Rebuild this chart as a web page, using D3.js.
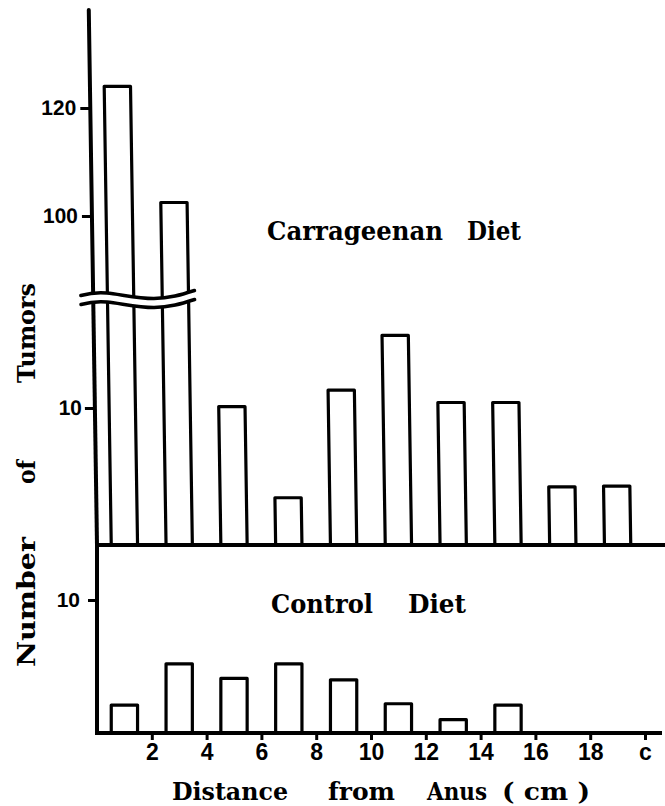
<!DOCTYPE html>
<html>
<head>
<meta charset="utf-8">
<script src="https://cdn.jsdelivr.net/npm/d3@7"></script>
<style>
  html, body { margin: 0; padding: 0; background: #fff; }
  svg { display: block; }
  .serif { font-family: "DejaVu Serif", "Liberation Serif", serif; font-weight: bold; fill: #000; }
  .ytick text { font-family: "Liberation Sans", Arial, sans-serif; font-weight: bold; font-size: 21px; fill: #000; }
  .xtick text { font-family: "Liberation Sans Narrow", "Liberation Sans", sans-serif; font-weight: bold; font-size: 23px; fill: #000; }
</style>
</head>
<body>
<svg id="chart" width="665" height="806"></svg>
<script>
// ---- data ----
const positions   = [1, 3, 5, 7, 9, 11, 13, 15, 17, 19];            // cm from anus (bar centres)
const carrageenan = [124, 102.5, 10.1, 3.45, 11.3, 15.3, 10.4, 10.4, 4.25, 4.3];
const control     = [2.1, 5.2, 4.1, 5.2, 4.0, 2.2, 1.0, 2.1, 0, 0];
const xTickValues = [2, 4, 6, 8, 10, 12, 14, 16, 18, 20];
const xTickLabels = ["2", "4", "6", "8", "10", "12", "14", "16", "18", "c"];
const upperTicks  = [100, 120];
const lowerTicks  = [10];
const controlTicks = [10];

// ---- layout ----
const svg = d3.select("#chart");
const baseUpper = 545, baseLower = 733;
const x = d3.scaleLinear().domain([0, 20]).range([97, 645]);
const yHigh = d3.scaleLinear().domain([100, 120]).range([216, 108]);   // upper part of broken axis
const yLow  = d3.scaleLinear().domain([0, 10]).range([baseUpper, 408]); // lower part of broken axis
const yCtl  = d3.scaleLinear().domain([0, 10]).range([baseLower, 600]);
const highTop = yHigh.invert(10);   // top of axis
const lowMax = 17.6;                // highest value visible below break
const halfW = 0.48;
const barStroke = 3.2, axisStroke = 4;

const barPath = (xc, y0, y1) =>
  `M${x(xc - halfW)},${y0}V${y1}H${x(xc + halfW)}V${y0}`;

// skewed group (original drawing is slightly slanted)
const upper = svg.append("g")
  .attr("transform", `translate(0,${baseUpper}) skewX(0.88) translate(0,${-baseUpper})`);

// break wave
const waveU = [[-0.45, 295.5], [0.5, 293], [2.2, 298.5], [3.7, 290.5]].map(d => [x(d[0]), d[1]]);
const waveL = waveU.map(d => [d[0], d[1] + 9]);
const wave = d3.line().curve(d3.curveNatural);
const defs = svg.append("defs");
const xl = waveU[0][0], xr = waveU[waveU.length - 1][0];
defs.append("clipPath").attr("id", "clipHigh").append("path")
  .attr("d", wave(waveU) + `L${xr},-20L${xl},-20Z`);
defs.append("clipPath").attr("id", "clipLow").append("path")
  .attr("d", wave(waveL) + `L${xr},300L700,300L700,570L${xl - 10},570L${xl - 10},${waveL[0][1]}Z`);

// upper segment (values above break)
const gHigh = upper.append("g").attr("clip-path", "url(#clipHigh)");
gHigh.append("line")
  .attr("x1", x(0)).attr("x2", x(0))
  .attr("y1", yHigh(highTop)).attr("y2", yHigh(80))
  .attr("stroke", "#000").attr("stroke-width", axisStroke).attr("stroke-linecap", "round");
gHigh.selectAll("path.bar")
  .data(positions.map((p, i) => ({ p, v: carrageenan[i] })).filter(d => d.v > lowMax))
  .join("path").attr("class", "bar")
  .attr("d", d => barPath(d.p, yHigh(80), yHigh(d.v)))
  .attr("fill", "none").attr("stroke", "#000").attr("stroke-width", barStroke)
  .attr("stroke-linejoin", "round");

// lower segment
const gLow = upper.append("g").attr("clip-path", "url(#clipLow)");
gLow.append("line")
  .attr("x1", x(0)).attr("x2", x(0))
  .attr("y1", yLow(20)).attr("y2", baseUpper)
  .attr("stroke", "#000").attr("stroke-width", axisStroke);
gLow.selectAll("path.bar")
  .data(positions.map((p, i) => ({ p, v: carrageenan[i] })))
  .join("path").attr("class", "bar")
  .attr("d", d => barPath(d.p, baseUpper, yLow(Math.min(d.v, 20))))
  .attr("fill", "none").attr("stroke", "#000").attr("stroke-width", barStroke)
  .attr("stroke-linejoin", "round");

// wave lines
[waveU, waveL].forEach(w => upper.append("path").attr("d", wave(w))
  .attr("fill", "none").attr("stroke", "#000").attr("stroke-width", 3.5).attr("stroke-linecap", "round"));

// y axes ticks (upper)
const axHigh = upper.append("g").attr("class", "ytick").attr("transform", `translate(${x(0) - 1},0)`)
  .call(d3.axisLeft(yHigh).tickValues(upperTicks).tickSize(9).tickPadding(4));
const axLow = upper.append("g").attr("class", "ytick").attr("transform", `translate(${x(0) - 1},0)`)
  .call(d3.axisLeft(yLow).tickValues(lowerTicks).tickSize(9).tickPadding(3));
[axHigh, axLow].forEach(a => {
  a.select(".domain").remove();
  a.selectAll(".tick line").attr("stroke", "#000").attr("stroke-width", 3);
});

// separating baseline
svg.append("line").attr("x1", x(0) - 2).attr("x2", 665).attr("y1", baseUpper).attr("y2", baseUpper)
  .attr("stroke", "#000").attr("stroke-width", axisStroke);

// ---- control panel ----
svg.append("line").attr("x1", x(0)).attr("x2", x(0)).attr("y1", baseUpper).attr("y2", baseLower)
  .attr("stroke", "#000").attr("stroke-width", axisStroke);
svg.selectAll("path.cbar")
  .data(positions.map((p, i) => ({ p, v: control[i] })).filter(d => d.v > 0))
  .join("path").attr("class", "cbar")
  .attr("d", d => barPath(d.p, baseLower, yCtl(d.v)))
  .attr("fill", "none").attr("stroke", "#000").attr("stroke-width", barStroke)
  .attr("stroke-linejoin", "round");
svg.append("line").attr("x1", x(0) - 2).attr("x2", 662).attr("y1", baseLower).attr("y2", baseLower)
  .attr("stroke", "#000").attr("stroke-width", axisStroke);

const axCtl = svg.append("g").attr("class", "ytick").attr("transform", `translate(${x(0) - 1},0)`)
  .call(d3.axisLeft(yCtl).tickValues(controlTicks).tickSize(8).tickPadding(8));
axCtl.select(".domain").remove();
axCtl.selectAll(".tick line").attr("stroke", "#000").attr("stroke-width", 3);

const axX = svg.append("g").attr("class", "xtick").attr("transform", `translate(0,${baseLower})`)
  .call(d3.axisBottom(x).tickValues(xTickValues).tickFormat((d, i) => xTickLabels[i]).tickSize(7).tickPadding(4));
axX.select(".domain").remove();
axX.selectAll(".tick line").attr("stroke", "#000").attr("stroke-width", 3);

// ---- texts ----
function word(g, txt, xPos, yPos, len, size, adj) {
  return g.append("text").attr("class", "serif").attr("x", xPos).attr("y", yPos)
    .attr("font-size", size).attr("textLength", len)
    .attr("lengthAdjust", adj || "spacingAndGlyphs").text(txt);
}
word(svg, "Carrageenan", 267, 240, 176, 26);
word(svg, "Diet", 467, 240, 54, 26);
word(svg, "Control", 271, 613, 102, 26);
word(svg, "Diet", 408, 613, 58, 26);

word(svg, "Distance", 172, 800, 116, 25);
word(svg, "from", 328, 800, 67, 25);
word(svg, "Anus", 427, 800, 60, 25);
word(svg, "( cm )", 502, 800, 88, 25);

const gy = svg.append("g").attr("transform", "rotate(-90)");
word(gy, "Number", -667, 35, 130, 25);
word(gy, "of", -484, 35, 24, 25);
word(gy, "Tumors", -383, 35, 100, 25);
</script>
</body>
</html>
